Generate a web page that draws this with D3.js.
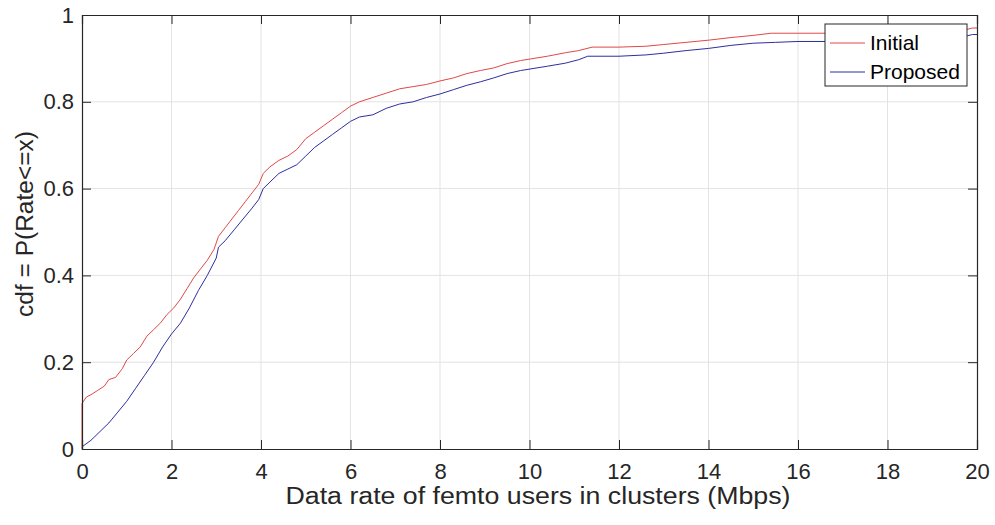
<!DOCTYPE html>
<html>
<head>
<meta charset="utf-8">
<script src="https://cdn.jsdelivr.net/npm/d3@7"></script>
<style>
  body { margin: 0; background: #fff; }
  svg { font-family: "Liberation Sans", Arial, sans-serif; }
</style>
</head>
<body>
<div id="chart"></div>
<script>
const initialX = [0, 0, 0.1, 0.2, 0.35, 0.5, 0.6, 0.75, 0.9, 1.0, 1.15, 1.3, 1.45, 1.6, 1.75, 1.9,
    2.05, 2.2, 2.35, 2.5, 2.65, 2.8, 2.95, 3.05, 3.2, 3.35, 3.5, 3.65, 3.8, 3.95, 4.05, 4.2,
    4.4, 4.6, 4.8, 5.0, 5.2, 5.4, 5.6, 5.8, 6.0, 6.2, 6.5, 6.8, 7.1, 7.4, 7.7, 8.0, 8.3, 8.6,
    8.9, 9.2, 9.5, 9.8, 10.1, 10.4, 10.8, 11.1, 11.4, 12.0, 12.6, 13.0, 13.5, 14.0, 14.5, 15.0,
    15.4, 19.7, 19.7, 19.9, 20]
const initialY = [0, 0.105, 0.12, 0.125, 0.135, 0.145, 0.16, 0.165, 0.185, 0.205, 0.22, 0.235,
    0.26, 0.275, 0.29, 0.31, 0.325, 0.345, 0.37, 0.395, 0.415, 0.435, 0.46, 0.49, 0.51, 0.53,
    0.55, 0.57, 0.59, 0.61, 0.635, 0.65, 0.665, 0.675, 0.69, 0.715, 0.73, 0.745, 0.76, 0.775,
    0.79, 0.8, 0.81, 0.82, 0.83, 0.835, 0.84, 0.848, 0.855, 0.865, 0.872, 0.878, 0.888, 0.895,
    0.9, 0.905, 0.913, 0.918, 0.926, 0.926, 0.928, 0.932, 0.937, 0.942, 0.948, 0.953, 0.958,
    0.958, 0.965, 0.97, 0.97]

const proposedX = [0, 0.2, 0.4, 0.6, 0.8, 1.0, 1.2, 1.4, 1.6, 1.8, 2.0, 2.2, 2.4, 2.6, 2.8, 3.0,
    3.05, 3.2, 3.4, 3.6, 3.8, 3.95, 4.05, 4.2, 4.4, 4.6, 4.8, 5.0, 5.2, 5.4, 5.6, 5.8, 6.0, 6.2,
    6.5, 6.8, 7.1, 7.4, 7.7, 8.0, 8.3, 8.6, 8.9, 9.2, 9.5, 9.8, 10.1, 10.4, 10.8, 11.1, 11.3,
    12.0, 12.6, 13.0, 13.5, 14.0, 14.5, 15.0, 15.5, 16.0, 19.7, 19.7, 19.9, 20]
const proposedY = [0.005, 0.02, 0.04, 0.06, 0.085, 0.11, 0.14, 0.17, 0.2, 0.235, 0.265, 0.29,
    0.325, 0.365, 0.4, 0.44, 0.465, 0.48, 0.505, 0.53, 0.555, 0.575, 0.6, 0.615, 0.635, 0.645,
    0.655, 0.675, 0.695, 0.71, 0.725, 0.74, 0.755, 0.765, 0.77, 0.785, 0.795, 0.8, 0.81, 0.818,
    0.828, 0.838, 0.846, 0.855, 0.865, 0.872, 0.877, 0.882, 0.889, 0.897, 0.905, 0.905, 0.908,
    0.912, 0.918, 0.923, 0.93, 0.935, 0.937, 0.939, 0.939, 0.95, 0.955, 0.955]

const xTicks = [0, 2, 4, 6, 8, 10, 12, 14, 16, 18, 20]
const yTicks = [0, 0.2, 0.4, 0.6, 0.8, 1]
const seriesNames = ['Initial', 'Proposed']
const seriesColors = ['#e04848', '#2e2e9e']

const width = 995
const height = 525
const margin = {top: 15, right: 18, bottom: 76, left: 82}

const x = d3.scaleLinear().domain([0, 20]).range([margin.left, width - margin.right])
const y = d3.scaleLinear().domain([0, 1]).range([height - margin.bottom, margin.top])

const svg = d3.select('#chart')
    .append('svg')
    .attr('width', width)
    .attr('height', height)

//grid
svg.append('g')
    .selectAll('line')
    .data(xTicks.slice(1, -1))
    .enter()
    .append('line')
    .attr('x1', (d) => x(d)).attr('x2', (d) => x(d))
    .attr('y1', y(0)).attr('y2', y(1))
    .attr('stroke', '#e3e3e3')
svg.append('g')
    .selectAll('line')
    .data(yTicks.slice(1, -1))
    .enter()
    .append('line')
    .attr('y1', (d) => y(d)).attr('y2', (d) => y(d))
    .attr('x1', x(0)).attr('x2', x(20))
    .attr('stroke', '#e3e3e3')

//series
const series = [
    {name: seriesNames[0], xs: initialX, ys: initialY, color: seriesColors[0]},
    {name: seriesNames[1], xs: proposedX, ys: proposedY, color: seriesColors[1]}
]
const line = d3.line()
    .x((d) => x(d[0]))
    .y((d) => y(d[1]))

svg.append('g')
    .selectAll('path')
    .data(series)
    .enter()
    .append('path')
    .attr('d', (s) => line(s.xs.map((v, i) => [v, s.ys[i]])))
    .attr('fill', 'none')
    .attr('stroke', (s) => s.color)
    .attr('stroke-width', 1)

//axes
const axisColor = '#262626'
const tickSize = 9
const axBottom = svg.append('g')
    .attr('transform', `translate(0,${y(0)})`)
    .call(d3.axisBottom(x).tickValues(xTicks).tickSize(-tickSize).tickPadding(11).tickFormat(d3.format('d')))
const axTop = svg.append('g')
    .attr('transform', `translate(0,${y(1)})`)
    .call(d3.axisTop(x).tickValues(xTicks).tickSize(-tickSize).tickFormat(''))
const axLeft = svg.append('g')
    .attr('transform', `translate(${x(0)},0)`)
    .call(d3.axisLeft(y).tickValues(yTicks).tickSize(-tickSize).tickPadding(8).tickFormat((d) => d3.format('~g')(d)))
const axRight = svg.append('g')
    .attr('transform', `translate(${x(20)},0)`)
    .call(d3.axisRight(y).tickValues(yTicks).tickSize(-tickSize).tickFormat(''))

;[axBottom, axTop, axLeft, axRight].forEach((g) => {
    g.select('.domain').attr('stroke', axisColor).attr('stroke-width', 1.2)
    g.selectAll('.tick line').attr('stroke', axisColor)
    g.selectAll('.tick text')
        .attr('fill', axisColor)
        .style('font-size', '22px')
        .style('font-family', '"Liberation Sans", Arial, sans-serif')
})
axBottom.selectAll('.tick text').attr('dy', '0.85em')

//labels
svg.append('text')
    .attr('x', 538)
    .attr('y', 504)
    .attr('text-anchor', 'middle')
    .attr('fill', axisColor)
    .attr('textLength', 505)
    .attr('lengthAdjust', 'spacingAndGlyphs')
    .style('font-size', '23px')
    .text('Data rate of femto users in clusters (Mbps)')
svg.append('text')
    .attr('transform', `translate(33,224) rotate(-90)`)
    .attr('text-anchor', 'middle')
    .attr('fill', axisColor)
    .attr('textLength', 186)
    .attr('lengthAdjust', 'spacingAndGlyphs')
    .style('font-size', '23px')
    .text('cdf = P(Rate<=x)')

//legend
const legend = svg.append('g').attr('transform', 'translate(825,24)')
legend.append('rect')
    .attr('width', 142)
    .attr('height', 62)
    .attr('fill', '#fff')
    .attr('stroke', axisColor)
    .attr('stroke-width', 1)
const items = legend.selectAll('g')
    .data(series)
    .enter()
    .append('g')
    .attr('transform', (d, i) => `translate(0,${19 + i * 29})`)
items.append('line')
    .attr('x1', 5).attr('x2', 40)
    .attr('stroke', (d) => d.color)
items.append('text')
    .attr('x', 45)
    .attr('dy', '0.35em')
    .attr('fill', '#000')
    .style('font-size', '21px')
    .text((d) => d.name)
</script>
</body>
</html>
